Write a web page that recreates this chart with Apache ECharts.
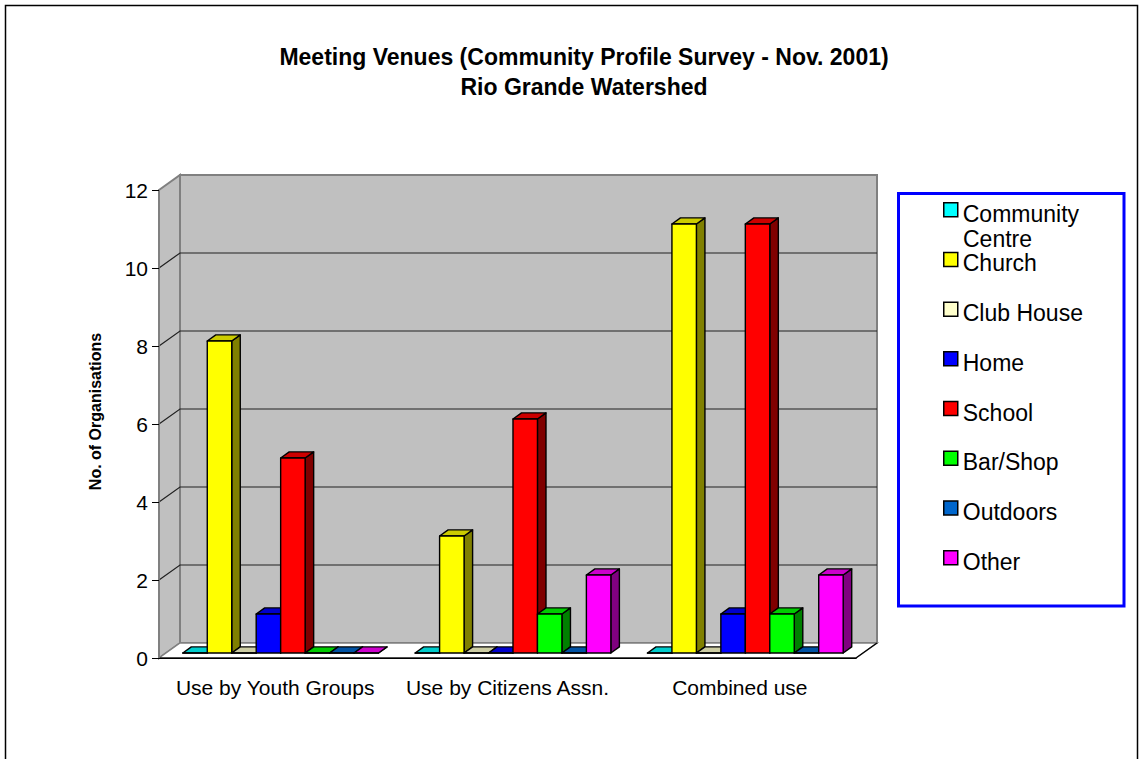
<!DOCTYPE html>
<html><head><meta charset="utf-8">
<script src="https://cdn.jsdelivr.net/npm/echarts@6/dist/echarts.min.js"></script>
<style>html,body{margin:0;padding:0;background:#fff}#c{width:1143px;height:759px}</style>
</head><body><div id="c"></div>
<script>
// ---- data ----
const categories = ['Use by Youth Groups', 'Use by Citizens Assn.', 'Combined use'];
const venues = ['Community Centre', 'Church', 'Club House', 'Home', 'School', 'Bar/Shop', 'Outdoors', 'Other'];
const communityCentre = [0, 0, 0];
const church = [8, 3, 11];
const clubHouse = [0, 0, 0];
const home = [1, 0, 1];
const school = [5, 6, 11];
const barShop = [0, 1, 1];
const outdoors = [0, 0, 0];
const other = [0, 2, 2];
const yTicks = [0, 2, 4, 6, 8, 10, 12];
const seriesValues = [communityCentre, church, clubHouse, home, school, barShop, outdoors, other];

// ---- styling ----
const venueColors = ['#00FFFF', '#FFFF00', '#FFFFCC', '#0000FF', '#FF0000', '#00FF00', '#0066CC', '#FF00FF'];
const FONT = 'Liberation Sans, Arial, sans-serif';
const DEPTH = [21, -15];      // projected depth of the plot box
const F1 = 1 / 3, F2 = 0.74;  // front / back depth of bars
const BAR_FRAC = 0.1053, GROUP_OFF = 0.4277;

function shade(hex, f) {
  const n = parseInt(hex.slice(1), 16);
  const r = Math.round(((n >> 16) & 255) * f), g = Math.round(((n >> 8) & 255) * f), b = Math.round((n & 255) * f);
  return 'rgb(' + r + ',' + g + ',' + b + ')';
}

function renderWalls(params, api) {
  const cs = params.coordSys;
  const L = cs.x, R = cs.x + cs.width, T = cs.y, B = cs.y + cs.height;
  const dx = DEPTH[0], dy = DEPTH[1];
  const ch = [];
  ch.push({ type: 'rect', shape: { x: L + dx, y: T + dy, width: cs.width, height: cs.height },
    style: { fill: '#C0C0C0', stroke: '#808080', lineWidth: 2 } });
  ch.push({ type: 'polygon', shape: { points: [[L, T], [L + dx, T + dy], [L + dx, B + dy], [L, B]] },
    style: { fill: '#C0C0C0', stroke: '#808080', lineWidth: 2 } });
  ch.push({ type: 'polygon', shape: { points: [[L, B], [L + dx, B + dy], [R + dx, B + dy], [R, B]] },
    style: { fill: '#FFFFFF', stroke: '#808080', lineWidth: 1.5 } });
  yTicks.forEach(function (t, k) {
    if (k === 0 || k === yTicks.length - 1) return;
    const y = api.coord([0, t])[1];
    ch.push({ type: 'polyline', shape: { points: [[L, y], [L + dx, y + dy], [R + dx, y + dy]] },
      style: { stroke: '#202020', lineWidth: 1.2, fill: null } });
  });
  ch.push({ type: 'polyline', shape: { points: [[L, B], [R, B], [R + dx, B + dy]] },
    style: { stroke: '#000', lineWidth: 1.2, fill: null } });
  return { type: 'group', children: ch };
}

function renderBar(i, params, api) {
  const j = api.value(0), v = api.value(1);
  const catW = api.size([1, 0])[0];
  const base = api.coord([j, 0]);
  const top = api.coord([j, v]);
  const bw = catW * BAR_FRAC;
  const x0 = base[0] - catW * GROUP_OFF + i * bw + DEPTH[0] * F1;
  const yb = base[1] + DEPTH[1] * F1, yt = top[1] + DEPTH[1] * F1;
  const bdx = DEPTH[0] * (F2 - F1), bdy = DEPTH[1] * (F2 - F1);
  const col = venueColors[i];
  const st = { stroke: '#000', lineWidth: 1.4, lineJoin: 'round' };
  return { type: 'group', children: [
    { type: 'polygon', shape: { points: [[x0 + bw, yt], [x0 + bw + bdx, yt + bdy], [x0 + bw + bdx, yb + bdy], [x0 + bw, yb]] },
      style: Object.assign({ fill: shade(col, 0.5) }, st) },
    { type: 'polygon', shape: { points: [[x0, yt], [x0 + bw, yt], [x0 + bw + bdx, yt + bdy], [x0 + bdx, yt + bdy]] },
      style: Object.assign({ fill: shade(col, 0.8) }, st) },
    { type: 'rect', shape: { x: x0, y: yt, width: bw, height: yb - yt },
      style: Object.assign({ fill: col }, st) }
  ] };
}

const series = [{
  type: 'custom', name: 'walls', z: 1, silent: true, clip: false,
  data: [[0, 0]], renderItem: renderWalls
}].concat(venues.map(function (name, i) {
  return {
    type: 'custom', name: name, z: 2, clip: false,
    itemStyle: { color: venueColors[i], borderColor: '#000', borderWidth: 1.5 },
    data: seriesValues[i].map(function (v, j) { return [j, v]; }),
    renderItem: function (params, api) { return renderBar(i, params, api); }
  };
}));

const chart = echarts.init(document.getElementById('c'), null, { renderer: 'svg' });
chart.setOption({
  animation: false,
  backgroundColor: '#fff',
  textStyle: { fontFamily: FONT },
  title: {
    text: 'Meeting Venues (Community Profile Survey - Nov. 2001)\nRio Grande Watershed',
    left: 584, top: 42, padding: 0, textAlign: 'center',
    textStyle: { fontSize: 23, fontWeight: 'bold', color: '#000', lineHeight: 30, fontFamily: FONT }
  },
  legend: {
    orient: 'vertical', left: 943, top: 202, padding: 0,
    itemWidth: 14, itemHeight: 22, itemGap: 26.2,
    icon: 'path://M0,0h14v14h-14zM0,22',
    selectedMode: false, data: venues,
    itemStyle: { borderColor: '#000', borderWidth: 1.5 },
    formatter: function (n) { return n === 'Community Centre' ? 'Community' : n; },
    textStyle: { fontSize: 23, color: '#000', fontFamily: FONT }
  },
  grid: { left: 159, top: 190, width: 697, height: 468 },
  xAxis: {
    type: 'category', data: categories, z: 3,
    axisLine: { lineStyle: { color: '#000', width: 1.2 } },
    axisTick: { length: 8, lineStyle: { color: '#000' } },
    axisLabel: { fontSize: 21, color: '#000', margin: 19, interval: 0, fontFamily: FONT }
  },
  yAxis: {
    type: 'value', min: 0, max: 12, interval: 2, z: 3,
    name: 'No. of Organisations', nameLocation: 'middle', nameGap: 56, nameRotate: 90,
    nameTextStyle: { fontSize: 16, fontWeight: 'bold', color: '#000', fontFamily: FONT, padding: [0, 0, 0, 25] },
    axisLine: { show: true, lineStyle: { color: '#808080', width: 1.5 } },
    axisTick: { show: true, length: 7, lineStyle: { color: '#000' } },
    axisLabel: { fontSize: 21, color: '#000', margin: 11, fontFamily: FONT },
    splitLine: { show: false }
  },
  graphic: [
    { type: 'rect', z: 0, silent: true, shape: { x: 5.5, y: 5.5, width: 1132, height: 800 },
      style: { fill: null, stroke: '#000', lineWidth: 1.5 } },
    { type: 'rect', z: 0, silent: true, shape: { x: 898.5, y: 193.5, width: 225.5, height: 412.5 },
      style: { fill: '#fff', stroke: '#0000FF', lineWidth: 3 } },
    { type: 'text', z: 10, silent: true, x: 963, y: 239,
      style: { text: 'Centre', font: '23px ' + FONT, fill: '#000', verticalAlign: 'middle' } }
  ],
  series: series
});
</script></body></html>
